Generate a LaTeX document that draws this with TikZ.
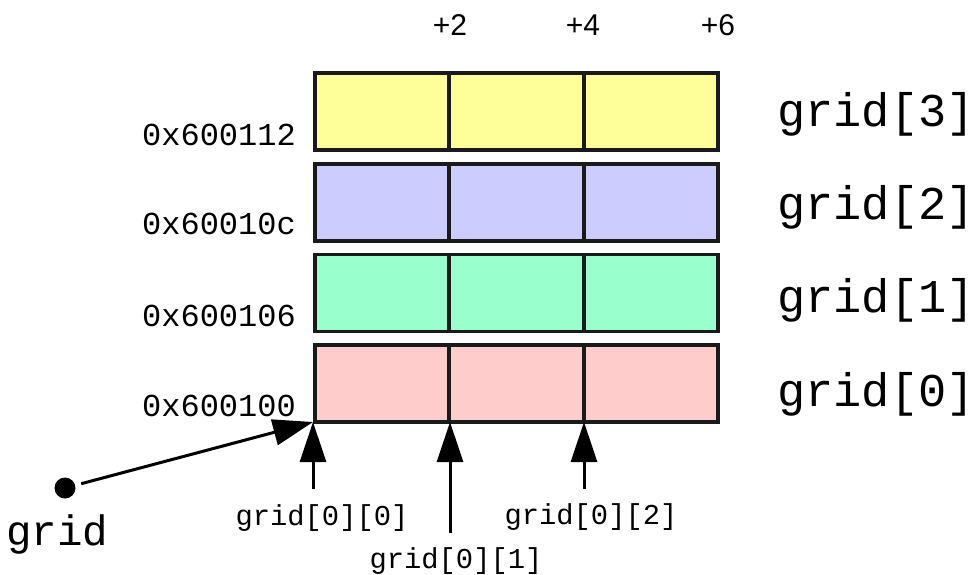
\documentclass[tikz,border=0pt]{standalone}
\usepackage{fontspec}
\setmainfont{Liberation Sans}
\newfontfamily\monofont{Liberation Mono}
\usetikzlibrary{arrows.meta}
\definecolor{rowyellow}{HTML}{FFFF99}
\definecolor{rowblue}{HTML}{CCCCFF}
\definecolor{rowgreen}{HTML}{99FFCC}
\definecolor{rowred}{HTML}{FFCCCC}
\definecolor{edge}{HTML}{1A1A1A}
\begin{document}
\begin{tikzpicture}[x=1pt,y=-1pt,
  cell/.style={draw=edge,line width=3.6pt,minimum width=134.33pt,minimum height=77pt,inner sep=0pt,outer sep=0pt},
  rowlabel/.style={font=\monofont\fontsize{47}{50}\selectfont,anchor=base west,inner sep=0pt},
  addr/.style={font=\monofont\fontsize{32}{34}\selectfont,anchor=base east,inner sep=0pt},
  offset/.style={font=\fontsize{30}{33}\selectfont,anchor=base,inner sep=0pt},
  elem/.style={font=\monofont\fontsize{28.8}{31}\selectfont,anchor=base,inner sep=0pt},
  ptr/.style={line width=3pt,-{Triangle[length=40pt,width=26pt]}},
  every node/.style={text=black}]
\useasboundingbox (0,0) rectangle (974,574);

% four rows of three two-byte cells, grid[3] on top
\foreach \r/\yc/\col in {3/111.5/rowyellow,2/202.5/rowblue,1/293/rowgreen,0/383.5/rowred}{
  \foreach \c/\xc in {0/382,1/516.5,2/651}{
    \node[cell,fill=\col] (r\r c\c) at (\xc,\yc) {};
  }
}

% byte offsets along the top
\node[offset] (o2) at (450,35) {+2};
\node[offset] (o4) at (583,35) {+4};
\node[offset] (o6) at (718,35) {+6};

% row addresses
\node[addr] (a3) at (296,145) {0x600112};
\node[addr] (a2) at (296,234) {0x60010c};
\node[addr] (a1) at (296,326) {0x600106};
\node[addr] (a0) at (296,416) {0x600100};

% row names
\node[rowlabel] (g3) at (777,126) {grid[3]};
\node[rowlabel] (g2) at (777,219) {grid[2]};
\node[rowlabel] (g1) at (777,312) {grid[1]};
\node[rowlabel] (g0) at (777,406) {grid[0]};

% element addresses on the bottom row
\coordinate (e0) at (313,422);
\coordinate (e1) at (450,422);
\coordinate (e2) at (584,422);
\coordinate (t0) at (313,489);
\coordinate (t1) at (450,533);
\coordinate (t2) at (584,489);
\draw[ptr] (t0) -- (e0);
\draw[ptr] (t1) -- (e1);
\draw[ptr] (t2) -- (e2);
\node[elem] (l0) at (322,525) {grid[0][0]};
\node[elem] (l1) at (456,568) {grid[0][1]};
\node[elem] (l2) at (591,524) {grid[0][2]};

% the pointer variable
\node[circle,fill=black,minimum size=21pt,inner sep=0pt] (gp) at (65,488) {};
\node[font=\monofont\fontsize{42.5}{45}\selectfont,anchor=base west,inner sep=0pt] (gname) at (6,545) {grid};
\draw[ptr,shorten <=6pt] (gp) -- (e0);
\end{tikzpicture}
\end{document}
